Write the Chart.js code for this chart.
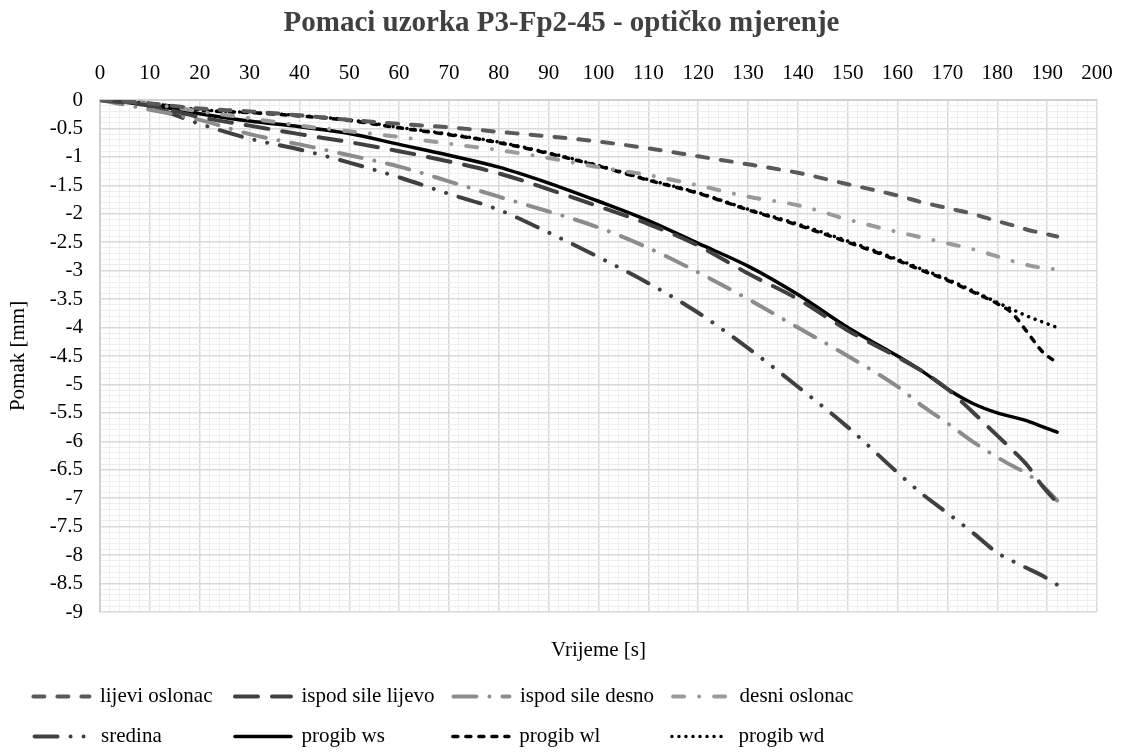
<!DOCTYPE html>
<html>
<head>
<meta charset="utf-8">
<script src="https://cdn.jsdelivr.net/npm/chart.js@4.4.1/dist/chart.umd.min.js"></script>
<style>
  html, body { margin: 0; padding: 0; background: #fff; }
  canvas { display: block; }
</style>
</head>
<body>
<canvas id="pomaciChart" width="1123" height="753"></canvas>
<script>
// vrijeme [s]
const seconds = [0, 10, 20, 30, 40, 50, 60, 70, 80, 90, 100, 110, 120, 130, 140, 150, 160, 165, 170, 175, 180, 183, 186, 189, 192];

// pomaci [mm]
const lijeviOslonac = [0, -0.06, -0.15, -0.2, -0.27, -0.35, -0.42, -0.48, -0.56, -0.64, -0.73, -0.85, -0.99, -1.13, -1.28, -1.48, -1.68, -1.8, -1.9, -2.0, -2.13, -2.2, -2.28, -2.34, -2.4];
const ispodSileLijevo = [0, -0.1, -0.3, -0.45, -0.6, -0.74, -0.9, -1.08, -1.29, -1.57, -1.87, -2.18, -2.56, -3.05, -3.5, -4.05, -4.52, -4.77, -5.08, -5.48, -5.9, -6.15, -6.42, -6.78, -7.08];
const ispodSileDesno = [0, -0.17, -0.35, -0.6, -0.78, -0.97, -1.17, -1.43, -1.7, -1.96, -2.24, -2.6, -3.03, -3.5, -4.0, -4.5, -5.04, -5.38, -5.68, -6.0, -6.28, -6.43, -6.57, -6.77, -7.04];
const desniOslonac = [0, -0.07, -0.2, -0.32, -0.45, -0.55, -0.65, -0.77, -0.88, -1.02, -1.18, -1.32, -1.5, -1.7, -1.85, -2.1, -2.32, -2.42, -2.52, -2.62, -2.75, -2.83, -2.9, -2.95, -2.98];
const sredina = [0, -0.12, -0.42, -0.68, -0.87, -1.1, -1.36, -1.65, -1.93, -2.33, -2.76, -3.22, -3.74, -4.36, -5.04, -5.75, -6.55, -6.93, -7.26, -7.6, -7.96, -8.1, -8.23, -8.36, -8.52];
const progibWs = [0, -0.09, -0.24, -0.37, -0.47, -0.59, -0.78, -0.97, -1.18, -1.46, -1.78, -2.12, -2.52, -2.92, -3.42, -4.0, -4.5, -4.77, -5.08, -5.33, -5.5, -5.57, -5.64, -5.74, -5.84];
const progibWl = [0, -0.06, -0.18, -0.22, -0.28, -0.36, -0.49, -0.61, -0.75, -0.94, -1.16, -1.41, -1.64, -1.93, -2.2, -2.5, -2.82, -3.0, -3.17, -3.37, -3.58, -3.75, -4.08, -4.42, -4.62];
const progibWd = [0, -0.06, -0.17, -0.22, -0.27, -0.35, -0.48, -0.6, -0.74, -0.93, -1.15, -1.4, -1.63, -1.92, -2.18, -2.48, -2.8, -2.98, -3.15, -3.35, -3.56, -3.68, -3.8, -3.9, -4.0];

const seriesNames = ["lijevi oslonac", "ispod sile lijevo", "ispod sile desno", "desni oslonac",
                     "sredina", "progib ws", "progib wl", "progib wd"];
const seriesValues = [lijeviOslonac, ispodSileLijevo, ispodSileDesno, desniOslonac,
                      sredina, progibWs, progibWl, progibWd];

// stil linija (Excel: crtkano, crta-tocka, ...)
const lineStyles = [
  { color: "#595959", dash: [11, 13], width: 4 },
  { color: "#404040", dash: [23, 14], width: 4 },
  { color: "#8c8c8c", dash: [23, 13, 0.01, 13], width: 4 },
  { color: "#9a9a9a", dash: [11, 15, 0.01, 15], width: 4 },
  { color: "#404040", dash: [23, 13, 0.01, 13, 0.01, 13], width: 4 },
  { color: "#000000", dash: [], width: 3.5 },
  { color: "#000000", dash: [5, 8], width: 3.5 },
  { color: "#000000", dash: [0.01, 7], width: 3.5 }
];

const FONT = '"Liberation Serif", "Times New Roman", serif';
const LEG_FONT = 21, LEG_PAD = 19, LEG_BOX = 56, LEG_LEFT = 33;
const LEG_COL_W = [202, 205, 220];
const RIGHT_GAP = 26;

const datasets = seriesNames.map((name, i) => ({
  label: name,
  data: seconds.map((t, k) => ({ x: t, y: seriesValues[i][k] })),
  borderColor: lineStyles[i].color,
  backgroundColor: lineStyles[i].color,
  borderWidth: lineStyles[i].width,
  borderDash: lineStyles[i].dash,
  borderCapStyle: "round",
  borderJoinStyle: "round",
  pointRadius: 0,
  fill: false,
  cubicInterpolationMode: "monotone"
}));

const majorGrid = "#d9d9d9", minorGrid = "#eeeeee";

// legenda u 4 stupca kao u Excelu
function legendLabels(chart) {
  const items = Chart.defaults.plugins.legend.labels.generateLabels(chart);
  const c = chart.ctx;
  c.save();
  c.font = LEG_FONT + "px " + FONT;
  const extra = LEG_BOX + LEG_FONT / 2 + LEG_PAD;
  const colW = LEG_COL_W.map((w, j) => Math.max(w, ...items
    .filter((it, i) => i % 4 === j)
    .map(it => c.measureText(it.text).width + extra)));
  const total = LEG_PAD + chart.width - 2 * LEG_LEFT;
  colW.push(total - colW.reduce((a, b) => a + b, 0));
  items.forEach((it, i) => {
    const st = lineStyles[it.datasetIndex];
    it.strokeStyle = st.color;
    it.fillStyle = st.color;
    it.lineWidth = st.width;
    it.lineDash = st.dash;
    it.lineCap = "round";
    const target = colW[i % 4] - extra;
    while (c.measureText(it.text + " ").width <= target) it.text += " ";
    while (c.measureText(it.text + "\u200A").width <= target) it.text += "\u200A";
  });
  c.restore();
  return items;
}

new Chart(document.getElementById("pomaciChart"), {
  type: "line",
  data: { datasets },
  options: {
    responsive: false,
    animation: false,
    devicePixelRatio: 1,
    layout: { padding: { left: 0, right: 0, top: 0, bottom: -4 } },
    plugins: {
      title: {
        display: true,
        text: "Pomaci uzorka P3-Fp2-45 - optičko mjerenje",
        color: "#404040",
        font: { family: FONT, size: 29, weight: "bold" },
        padding: { top: 6, bottom: 0 }
      },
      legend: {
        position: "bottom",
        labels: {
          usePointStyle: true,
          pointStyle: "line",
          pointStyleWidth: LEG_BOX,
          padding: LEG_PAD,
          color: "#000",
          font: { family: FONT, size: LEG_FONT },
          generateLabels: legendLabels
        }
      },
      tooltip: { enabled: false }
    },
    scales: {
      x: {
        type: "linear",
        position: "top",
        min: 0,
        max: 200,
        afterFit(s) { s.height = 59.2; s.paddingLeft = 0; s.paddingRight = 0; },
        ticks: {
          stepSize: 2,
          autoSkip: false,
          maxRotation: 0,
          padding: 14,
          color: "#000",
          font: { family: FONT, size: 21 },
          callback: v => (Math.round(v) % 10 === 0 ? String(Math.round(v)) : "")
        },
        grid: {
          drawTicks: false,
          color: c => (Math.round(c.tick.value) % 10 === 0 ? majorGrid : minorGrid),
          lineWidth: c => (Math.round(c.tick.value) % 10 === 0 ? 1.5 : 1)
        },
        border: { color: "#d0d0d0", width: 2 }
      },
      xb: {
        type: "linear",
        position: "bottom",
        min: 0,
        max: 200,
        afterFit(s) { s.height = 55; s.paddingLeft = 0; s.paddingRight = 0; },
        ticks: { display: false },
        grid: { display: false, drawTicks: false },
        border: { display: false },
        title: {
          display: true,
          text: "Vrijeme [s]",
          color: "#000",
          font: { family: FONT, size: 21 },
          padding: { top: 0, bottom: 4 }
        }
      },
      y: {
        type: "linear",
        min: -9,
        max: 0,
        afterFit(s) { s.width = 100; s.paddingTop = 0; s.paddingBottom = 0; },
        ticks: {
          stepSize: 0.1,
          autoSkip: false,
          padding: 17,
          color: "#000",
          font: { family: FONT, size: 21 },
          callback: v => (Math.round(v * 10) % 5 === 0 ? String(Math.round(v * 10) / 10) : "")
        },
        grid: {
          drawTicks: false,
          color: c => (Math.round(c.tick.value * 10) % 5 === 0 ? majorGrid : minorGrid),
          lineWidth: c => (Math.round(c.tick.value * 10) % 5 === 0 ? 1.5 : 1)
        },
        border: { color: "#d0d0d0", width: 2 },
        title: {
          display: true,
          text: "Pomak [mm]",
          color: "#000",
          font: { family: FONT, size: 21 },
          padding: { top: 6, bottom: 0 }
        }
      },
      yr: {
        type: "linear",
        position: "right",
        afterFit(s) { s.width = RIGHT_GAP; s.paddingTop = 0; s.paddingBottom = 0; },
        ticks: { display: false },
        grid: { display: false, drawTicks: false },
        border: { display: false }
      }
    }
  }
});
</script>
</body>
</html>
